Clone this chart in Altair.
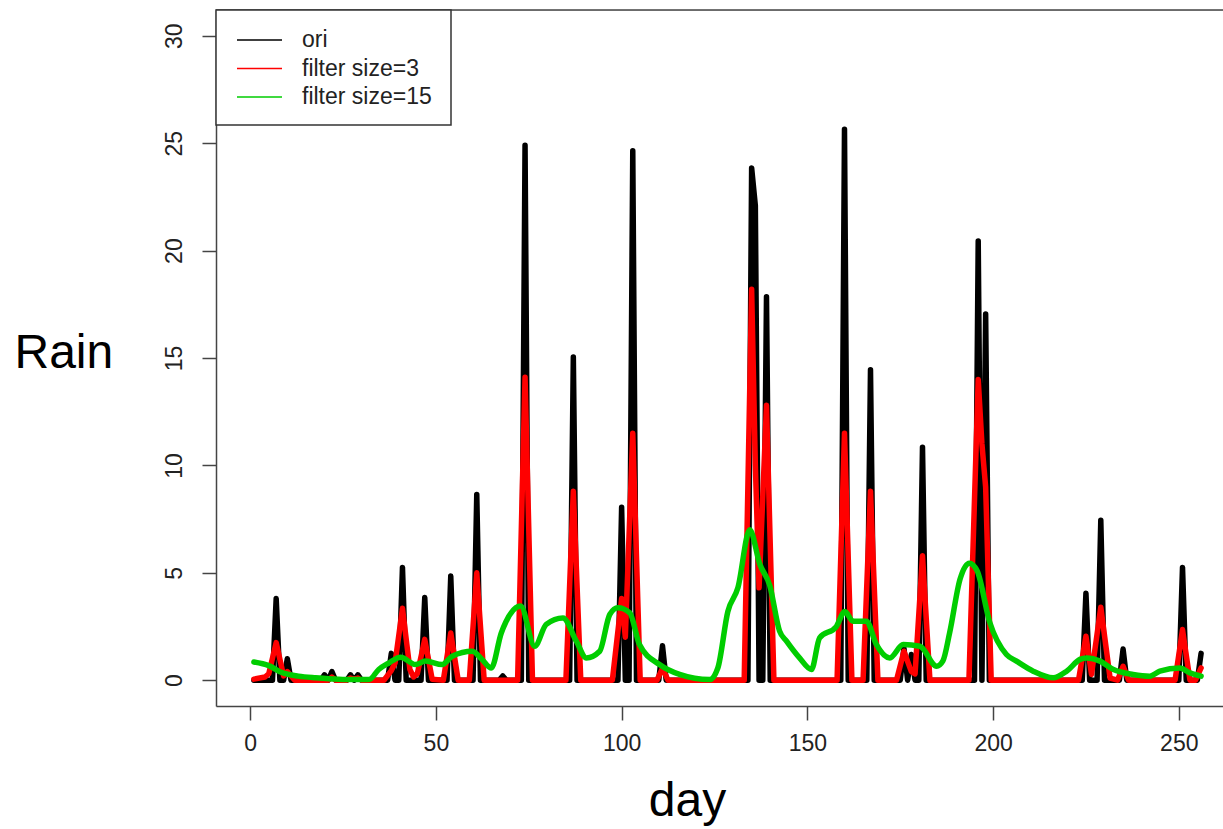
import altair as alt
import pandas as pd

# ---- data ----
# original daily rain: days with rain (all other days are 0)
rain_days = [7, 10, 20, 22, 27, 29, 38, 41, 47, 54, 61, 68, 74, 87, 100, 103, 111,
             135, 136, 139, 160, 167, 176, 178, 181, 196, 198, 225, 229, 235, 251, 256]
rain_vals = [3.8, 1.0, 0.25, 0.4, 0.25, 0.25, 1.25, 5.25, 3.85, 4.85, 8.65, 0.2, 24.9, 15.05, 8.05, 24.65, 1.6,
             23.85, 22.1, 17.85, 25.65, 14.45, 1.5, 1.2, 10.85, 20.45, 17.05, 4.05, 7.45, 1.45, 5.25, 1.25]
first_day, last_day = 1, 256

# filter size = 3 (vertices of the red curve)
f3_days = [1, 4, 5, 7, 9, 10, 12, 21, 22, 23, 26, 27, 28, 29, 30, 36, 38, 39, 41, 43, 44, 45, 47, 49, 52, 54, 56,
           59, 61, 63, 72, 74, 76, 85, 87, 89, 97.5, 100, 101, 103, 105, 109.5, 111, 112.5,
           133, 135, 136, 137, 139, 141, 158, 160, 162, 165, 167, 169, 170.5, 174, 176, 178, 179, 181, 183,
           193.5, 196, 197, 198, 199.5, 223, 225, 226.5, 229, 231.5, 233.5, 235, 236.5, 249, 251, 253, 254.5, 256]
f3_vals = [0.05, 0.15, 0.3, 1.75, 0.2, 0.4, 0.0, 0.0, 0.15, 0.0, 0.0, 0.1, 0.05, 0.1, 0.0, 0.0, 0.45, 0.8, 3.35, 0.5, 0.15, 0.3, 1.9, 0.05, 0.0, 2.2, 0.0,
           0.0, 5.0, 0.0, 0.0, 14.1, 0.0, 0.0, 8.8, 0.0, 0.0, 3.8, 2.0, 11.5, 0.0, 0.0, 0.55, 0.0,
           0.0, 18.2, 10.0, 4.3, 12.8, 0.0, 0.0, 11.5, 0.0, 0.0, 8.8, 0.0, 0.0, 0.0, 1.35, 0.4, 0.3, 5.8, 0.0,
           0.0, 14.0, 11.0, 9.0, 0.0, 0.0, 2.05, 0.27, 3.4, 0.1, 0.0, 0.65, 0.0, 0.0, 2.36, 0.0, 0.0, 0.57]

# filter size = 15 (vertices of the green curve)
f15_days = [1, 5, 8.5, 13, 17.6, 22, 26.5, 32, 34.6, 37.3, 40.5, 44.5, 47.2, 51.7, 54.4, 59.8, 62.5, 64.9,
            67.6, 68.8, 72.8, 76.6, 79.7, 84.2, 87.8, 90.5, 94.1, 96.8, 99, 102.2, 104.8, 110.2, 115.6,
            123.7, 125.9, 128.6, 131.3, 134.5, 137.2, 139.9, 142.5, 144.4, 147.9, 151.1, 153.3, 157.8,
            160.1, 162.3, 165.9, 168.6, 172.2, 175.8, 180.3, 184.8, 186.5, 188.3, 191.1, 193.6, 195.7,
            199.1, 203.6, 206.3, 210.8, 216.2, 219.8, 223.4, 225.2, 228.8, 232.4, 237.7, 242.2, 244.9,
            250.3, 253, 256]
f15_vals = [0.85, 0.68, 0.36, 0.19, 0.11, 0.06, 0.03, 0.03, 0.5, 0.8, 1.07, 0.73, 0.89, 0.73, 1.12, 1.35, 0.95, 0.57,
            2.2, 2.7, 3.45, 1.58, 2.6, 2.9, 1.82, 1.04, 1.35, 3.06, 3.37, 3.14, 1.66, 0.73, 0.27,
            0.03, 0.57, 3.2, 4.3, 7.0, 5.4, 4.4, 2.3, 1.82, 1.04, 0.5, 1.97, 2.5,
            3.2, 2.75, 2.75, 1.66, 1.04, 1.66, 1.58, 0.65, 0.9, 2.2, 4.7, 5.45, 5.1,
            2.7, 1.2, 0.89, 0.42, 0.11, 0.42, 0.97, 1.04, 0.89, 0.5, 0.27, 0.19, 0.42,
            0.57, 0.34, 0.19]

series_names = ["ori", "filter size=3", "filter size=15"]
series_colors = ["#000000", "#ff0000", "#00cd00"]
x_ticks = [0, 50, 100, 150, 200, 250]
y_ticks = [0, 5, 10, 15, 20, 25, 30]

# ---- build tables ----
rain_map = dict(zip(rain_days, rain_vals))
df_ori = pd.DataFrame({"day": list(range(first_day, last_day + 1)),
                       "value": [rain_map.get(d, 0.0) for d in range(first_day, last_day + 1)]})
df_f3 = pd.DataFrame({"day": f3_days, "value": f3_vals})
df_f15 = pd.DataFrame({"day": f15_days, "value": f15_vals})

FONT = "Liberation Sans"
W, H = 1007, 696

x = alt.X("day:Q", scale=alt.Scale(domain=[-9.2, 261.9], nice=False, zero=False),
          axis=alt.Axis(values=x_ticks, grid=False, tickSize=14, tickWidth=1.5, tickColor="#444",
                        domainColor="#444", domainWidth=1.5, labelFontSize=23, labelFont=FONT,
                        labelColor="#222", labelPadding=12, labelFlush=False,
                        title="day", titleFont=FONT, titleFontSize=48, titleFontWeight="normal",
                        titleColor="#000", titleX=471, titleY=109, titleAlign="center",
                        titleBaseline="alphabetic"))
y = alt.Y("value:Q", scale=alt.Scale(domain=[-1.2, 31.2], nice=False, zero=False),
          axis=alt.Axis(values=y_ticks, grid=False, tickSize=14, tickWidth=1.5, tickColor="#444",
                        domainColor="#444", domainWidth=1.5, labelFontSize=23, labelFont=FONT,
                        labelColor="#222", labelAngle=270, labelAlign="center", labelBaseline="bottom",
                        labelPadding=16, labelFlush=False,
                        title="Rain", titleFont=FONT, titleFontSize=48, titleFontWeight="normal",
                        titleColor="#000", titleAngle=0, titleX=-202, titleY=357, titleAlign="left",
                        titleBaseline="alphabetic"))

line_ori = alt.Chart(df_ori).mark_line(strokeWidth=5.5, strokeCap="round", strokeJoin="round",
                                       color=series_colors[0]).encode(x=x, y=y)
line_f3 = alt.Chart(df_f3).mark_line(strokeWidth=5.5, strokeCap="round", strokeJoin="round",
                                     color=series_colors[1]).encode(x="day:Q", y="value:Q")
line_f15 = alt.Chart(df_f15).mark_line(strokeWidth=5.5, strokeCap="round", strokeJoin="round",
                                       interpolate="monotone",
                                       color=series_colors[2]).encode(x="day:Q", y="value:Q")

top_border = alt.Chart(pd.DataFrame({"a": [0]})).mark_rule(color="#444", strokeWidth=1.5).encode(
    x=alt.value(0), x2=alt.value(W), y=alt.value(0)
)

# ---- legend (drawn as decoration in the top-left corner) ----
leg_box = alt.Chart(pd.DataFrame({"a": [0]})).mark_rect(
    fill="white", stroke="#333", strokeWidth=1.5
).encode(x=alt.value(0), x2=alt.value(235), y=alt.value(0), y2=alt.value(115))

leg_layers = [leg_box]
row_y = [30, 58.5, 87]
for name, col, ry in zip(series_names, series_colors, row_y):
    leg_layers.append(
        alt.Chart(pd.DataFrame({"a": [0]})).mark_rule(color=col, strokeWidth=1.5).encode(
            x=alt.value(21), x2=alt.value(66), y=alt.value(ry))
    )
    leg_layers.append(
        alt.Chart(pd.DataFrame({"a": [0]})).mark_text(
            text=name, font=FONT, fontSize=23, color="#222", align="left", baseline="middle"
        ).encode(x=alt.value(86), y=alt.value(ry))
    )

chart = alt.layer(line_ori, line_f3, line_f15, top_border, *leg_layers).properties(
    width=W, height=H,
    padding={"left": 216, "top": 10, "right": 0, "bottom": 123},
    autosize=alt.AutoSizeParams(type="none"),
).configure_view(stroke=None).configure(background="white")

chart.save("out.html", embed_options={"renderer": "svg", "actions": False})
